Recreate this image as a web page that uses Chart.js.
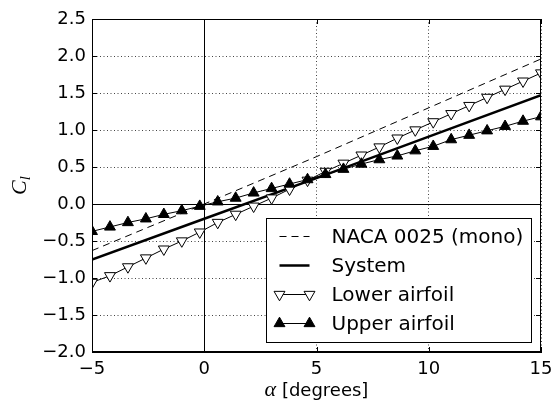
<!DOCTYPE html>
<html>
<head>
<meta charset="utf-8">
<script src="https://cdn.jsdelivr.net/npm/chart.js@4/dist/chart.umd.min.js"></script>
<style>
  html, body { margin: 0; padding: 0; background: #fff; }
  #wrap { position: relative; width: 555px; height: 409px; }
</style>
</head>
<body>
<div id="wrap"><canvas id="clChart" width="555" height="409"></canvas></div>
<script>
// angle of attack for the two airfoil series (degrees)
const alphaPts = [-5.0, -4.2, -3.4, -2.6, -1.8, -1.0, -0.2, 0.6, 1.4, 2.2, 3.0, 3.8, 4.6,
                  5.4, 6.2, 7.0, 7.8, 8.6, 9.4, 10.2, 11.0, 11.8, 12.6, 13.4, 14.2, 15.0];
const lowerCl = [-1.06, -0.97, -0.85, -0.73, -0.61, -0.50, -0.38, -0.25, -0.14, -0.03, 0.08, 0.20, 0.32,
                 0.44, 0.55, 0.66, 0.77, 0.89, 1.00, 1.11, 1.22, 1.33, 1.44, 1.55, 1.66, 1.77];
const upperCl = [-0.37, -0.31, -0.25, -0.20, -0.14, -0.09, -0.03, 0.03, 0.08, 0.15, 0.21, 0.27, 0.33,
                 0.40, 0.47, 0.54, 0.60, 0.65, 0.72, 0.78, 0.87, 0.93, 0.99, 1.05, 1.12, 1.18];
const monoAlpha = [-5, 0, 5, 10, 15];
const monoCl = [-0.63, 0.00, 0.64, 1.30, 1.96];
const systemAlpha = [-5, 0, 5, 10, 15];
const systemCl = [-0.75, -0.20, 0.35, 0.91, 1.47];

const seriesNames = ['NACA 0025 (mono)', 'System', 'Lower airfoil', 'Upper airfoil'];
const xTicks = [-5, 0, 5, 10, 15];
const yTicks = [-2.0, -1.5, -1.0, -0.5, 0.0, 0.5, 1.0, 1.5, 2.0, 2.5];

const SANS = '"DejaVu Sans", sans-serif';
const MATH = '"Liberation Serif", "DejaVu Serif", serif';
const DASH = [7, 5];
const MARKER_R = 6.3;

function fmt(v, d) {
    return (v < -1e-9 ? '\u2212' : '') + Math.abs(v).toFixed(d);
}

function pts(xs, ys) {
    return xs.map((x, i) => ({ x: x, y: ys[i] }));
}

const decor = {
    id: 'decor',
    beforeDatasetsDraw(chart) {
        const { ctx, chartArea: a, scales: { x, y } } = chart;
        ctx.save();
        ctx.strokeStyle = '#000';
        ctx.lineWidth = 1;
        const x0 = Math.round(x.getPixelForValue(0)) + 0.5;
        const y0 = Math.round(y.getPixelForValue(0)) + 0.5;
        ctx.beginPath();
        ctx.moveTo(x0, a.top); ctx.lineTo(x0, a.bottom);
        ctx.moveTo(a.left, y0); ctx.lineTo(a.right, y0);
        ctx.stroke();
        ctx.restore();
    },
    afterDatasetsDraw(chart) {
        const { ctx, chartArea: a, scales: { x, y } } = chart;
        ctx.save();
        ctx.strokeStyle = '#000';
        ctx.lineWidth = 1;
        // frame
        ctx.strokeRect(Math.round(a.left) + 0.5, Math.round(a.top) + 0.5,
                       Math.round(a.right - a.left) - 1, Math.round(a.bottom - a.top) - 1);
        // inward ticks
        const tl = 5;
        ctx.beginPath();
        xTicks.forEach(v => {
            const px = Math.round(x.getPixelForValue(v)) + 0.5;
            ctx.moveTo(px, a.bottom); ctx.lineTo(px, a.bottom - tl);
            ctx.moveTo(px, a.top); ctx.lineTo(px, a.top + tl);
        });
        yTicks.forEach(v => {
            const py = Math.round(y.getPixelForValue(v)) + 0.5;
            ctx.moveTo(a.left, py); ctx.lineTo(a.left + tl, py);
            ctx.moveTo(a.right, py); ctx.lineTo(a.right - tl, py);
        });
        ctx.stroke();

        // legend
        const bw = 265, bh = 124;
        const bx = Math.round(a.right - 10 - bw) + 0.5;
        const by = Math.round(a.bottom - 10 - bh) + 0.5;
        ctx.fillStyle = '#fff';
        ctx.fillRect(bx, by, bw, bh);
        ctx.strokeRect(bx, by, bw, bh);
        const hx0 = bx + 13, hx1 = bx + 43;
        ctx.font = '20px ' + SANS;
        ctx.textBaseline = 'middle';
        ctx.textAlign = 'left';
        seriesNames.forEach((name, i) => {
            const ry = Math.round(by + 17 + i * 29) + 0.5;
            ctx.save();
            ctx.beginPath();
            ctx.moveTo(hx0, ry); ctx.lineTo(hx1, ry);
            if (i === 0) { ctx.setLineDash(DASH); ctx.lineWidth = 1; }
            if (i === 1) { ctx.lineWidth = 2.5; }
            ctx.stroke();
            ctx.restore();
            if (i >= 2) {
                const opts = {
                    pointStyle: 'triangle', radius: MARKER_R, borderWidth: 1,
                    rotation: i === 2 ? 180 : 0
                };
                ctx.save();
                ctx.fillStyle = i === 2 ? '#fff' : '#000';
                ctx.strokeStyle = '#000';
                ctx.lineWidth = 1;
                Chart.helpers.drawPoint(ctx, opts, hx0, ry);
                Chart.helpers.drawPoint(ctx, opts, hx1, ry);
                ctx.restore();
            }
            ctx.fillStyle = '#000';
            ctx.fillText(name, bx + 65, ry + 1);
        });
        ctx.restore();
    },
    afterDraw(chart) {
        const { ctx, chartArea: a } = chart;
        ctx.save();
        ctx.fillStyle = '#000';
        ctx.textBaseline = 'alphabetic';
        // x title: alpha [degrees]
        const f1 = 'italic 22px ' + MATH, f2 = '18px ' + SANS;
        ctx.font = f1; const w1 = ctx.measureText('\u03b1').width;
        ctx.font = f2; const w2 = ctx.measureText(' [degrees]').width;
        let sx = (a.left + a.right) / 2 - (w1 + w2) / 2;
        const ty = 396;
        ctx.font = f1; ctx.fillText('\u03b1', sx, ty);
        ctx.font = f2; ctx.fillText(' [degrees]', sx + w1, ty);
        // y title: C_l
        ctx.translate(26, (a.top + a.bottom) / 2);
        ctx.rotate(-Math.PI / 2);
        ctx.font = 'italic 22px ' + MATH;
        const wc = ctx.measureText('C').width;
        ctx.font = 'italic 15px ' + MATH;
        const wl = ctx.measureText('l').width;
        const ox = -(wc + wl) / 2;
        ctx.font = 'italic 22px ' + MATH;
        ctx.fillText('C', ox, 0);
        ctx.font = 'italic 15px ' + MATH;
        ctx.fillText('l', ox + wc, 4);
        ctx.restore();
    }
};

const ctx = document.getElementById('clChart').getContext('2d');
new Chart(ctx, {
    type: 'line',
    data: {
        datasets: [
            {
                label: seriesNames[0],
                data: pts(monoAlpha, monoCl),
                borderColor: '#000', borderWidth: 1, borderDash: DASH,
                pointRadius: 0, order: 4, clip: 0
            },
            {
                label: seriesNames[1],
                data: pts(systemAlpha, systemCl),
                borderColor: '#000', borderWidth: 2.5,
                pointRadius: 0, order: 3, clip: 0
            },
            {
                label: seriesNames[2],
                data: pts(alphaPts, lowerCl),
                borderColor: '#000', borderWidth: 1,
                pointStyle: 'triangle', pointRotation: 180, pointRadius: MARKER_R,
                pointBackgroundColor: '#fff', pointBorderColor: '#000', pointBorderWidth: 1,
                order: 2, clip: 0
            },
            {
                label: seriesNames[3],
                data: pts(alphaPts, upperCl),
                borderColor: '#000', borderWidth: 1,
                pointStyle: 'triangle', pointRadius: MARKER_R,
                pointBackgroundColor: '#000', pointBorderColor: '#000', pointBorderWidth: 1,
                order: 1, clip: 0
            }
        ]
    },
    options: {
        responsive: false,
        animation: false,
        events: [],
        layout: { padding: { left: 0, right: 14, top: 19, bottom: 0 } },
        plugins: { legend: { display: false }, tooltip: { enabled: false } },
        elements: { line: { tension: 0 } },
        scales: {
            x: {
                type: 'linear', min: -5, max: 15,
                afterBuildTicks: s => { s.ticks = xTicks.map(v => ({ value: v })); },
                afterFit: s => { s.height = 57; s.paddingLeft = 0; s.paddingRight = 0; },
                ticks: {
                    color: '#000', padding: 7, maxRotation: 0,
                    font: { family: SANS, size: 18 },
                    callback: v => fmt(v, 0)
                },
                grid: { color: '#444', lineWidth: 1, drawTicks: false },
                border: { display: true, color: '#000', width: 1, dash: [1, 2.5] }
            },
            y: {
                type: 'linear', min: -2.0, max: 2.5,
                afterBuildTicks: s => { s.ticks = yTicks.map(v => ({ value: v })); },
                afterFit: s => { s.width = 92; s.paddingTop = 0; s.paddingBottom = 0; },
                ticks: {
                    color: '#000', padding: 6,
                    font: { family: SANS, size: 18 },
                    callback: v => fmt(v, 1)
                },
                grid: { color: '#444', lineWidth: 1, drawTicks: false },
                border: { display: true, color: '#000', width: 1, dash: [1, 2.5] }
            }
        }
    },
    plugins: [decor]
});
</script>
</body>
</html>
